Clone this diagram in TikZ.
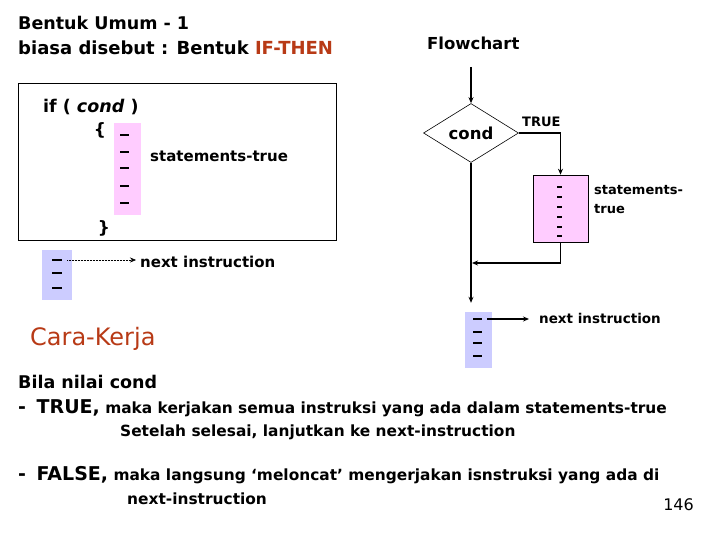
\documentclass[tikz,border=0pt]{standalone}
\usepackage{fontspec}
\setmainfont{DejaVu Sans}
\usepackage{xcolor}
\usetikzlibrary{arrows.meta,shapes.geometric,calc}
\definecolor{judulmerah}{RGB}{184,58,22}
\definecolor{isipink}{RGB}{255,204,255}
\definecolor{isibiru}{RGB}{204,204,255}

\begin{document}
\begin{tikzpicture}[x=1pt, y=-1pt, >={Stealth[length=6pt,width=5pt]},
    teks/.style={anchor=base west, inner sep=0pt, font=\bfseries\fontsize{15.4}{18}\selectfont},
    garis/.style={line width=1.5pt},
    strip/.style={line width=2pt},
    blok/.style={inner sep=0pt}]
    \useasboundingbox[fill=white] (0,0) rectangle (720,540);
    % judul
    \node[teks, font=\bfseries\fontsize{17.5}{20}\selectfont] (judulA) at (18,30) {Bentuk Umum - 1};
    \node[teks, font=\bfseries\fontsize{18}{20}\selectfont] (judulB) at (18,55) {biasa disebut : Bentuk \textcolor{judulmerah}{IF-THEN}};
    \node[teks, font=\bfseries\fontsize{16.5}{20}\selectfont] (judulFC) at (427,50) {Flowchart};
    % kode if
    \draw[line width=1pt] (18,84) rectangle (336,240);
    \node[teks, font=\bfseries\fontsize{17.5}{20}\selectfont] (kodeIf) at (43,113) {if ( \textit{cond} )};
    \node[font=\bfseries\fontsize{17}{20}\selectfont] (kurungBuka) at (100,130) {\{};
    \node[font=\bfseries\fontsize{17}{20}\selectfont] (kurungTutup) at (104,228) {\}};
    \node[blok, fill=isipink, minimum width=27pt, minimum height=92pt] (blokPink) at (127.5,169) {};
    \foreach \y in {135,152,168,186,203} \draw[strip] (120,\y) -- (129,\y);
    \node[teks, font=\bfseries\fontsize{15}{17}\selectfont] (stmtKiri) at (150,162) {statements-true};
    % next instruction kiri
    \node[blok, fill=isibiru, minimum width=30pt, minimum height=50pt] (blokBiru) at (57,275) {};
    \foreach \y in {260,273,288} \draw[strip] (52,\y) -- (62,\y);
    \coordinate (ujungKiri) at (67,260);
    \node[teks, font=\bfseries\fontsize{15}{18}\selectfont] (nextKiri) at (140,267) {next instruction};
    \draw[->, line width=0.5pt, densely dotted, shorten >=4pt] (ujungKiri) -- (nextKiri.west |- ujungKiri);
    % flowchart
    \coordinate (mulai) at (471,67);
    \node[draw, diamond, line width=0.6pt, minimum width=95pt, minimum height=59pt, inner sep=0pt,
          font=\bfseries\fontsize{16.5}{18}\selectfont] (cond) at (471,133) {cond};
    \node[blok, draw, fill=isipink, line width=0.6pt, minimum width=55pt, minimum height=67pt] (blokBenar) at (560.5,208.5) {};
    \foreach \y in {187,197,207,217,227,236} \draw[strip] (557,\y) -- (562,\y);
    \node[teks, font=\bfseries\fontsize{13}{16}\selectfont] (labelTrue) at (522,127) {TRUE};
    \node[teks, anchor=north west, align=left, font=\bfseries\fontsize{13}{19}\selectfont] (stmtKanan) at (594,185) {statements-\\true};
    \node[blok, fill=isibiru, minimum width=27pt, minimum height=56pt] (blokNext) at (478.5,340) {};
    \foreach \y in {319,332,343,356} \draw[strip] (473,\y) -- (482,\y);
    \coordinate (ujungKanan) at (487,319);
    \node[teks, font=\bfseries\fontsize{13.5}{16}\selectfont] (nextKanan) at (539,323) {next instruction};
    \draw[->, garis, shorten >=10pt] (ujungKanan) -- (nextKanan.west |- ujungKanan);
    % alur
    \coordinate (gabung) at (472,263);
    \draw[->, garis] (mulai) -- (cond.north);
    \draw[->, garis] (cond.east) -| (blokBenar.north);
    \draw[->, garis] (blokBenar.south) |- (gabung);
    \draw[->, garis, shorten >=9pt] (cond.south) -- (cond.south |- blokNext.north);
    % cara kerja
    \node[teks, font=\fontsize{24}{26}\selectfont, text=judulmerah] (caraKerja) at (30,345) {Cara-Kerja};
    \node[teks, font=\bfseries\fontsize{17.5}{20}\selectfont] (bila) at (18,388) {Bila nilai cond};
    \node[teks] (kasusTrue) at (18,413) {{\fontsize{19}{20}\selectfont -\hspace{4pt} TRUE,} maka kerjakan semua instruksi yang ada dalam statements-true};
    \node[teks] (setelah) at (120,436) {Setelah selesai, lanjutkan ke next-instruction};
    \node[teks] (kasusFalse) at (18,480) {{\fontsize{19}{20}\selectfont -\hspace{4pt} FALSE,} maka langsung ‘meloncat’ mengerjakan isnstruksi yang ada di};
    \node[teks] (nextBawah) at (127,504) {next-instruction};
    \node[anchor=base east, inner sep=0pt, font=\fontsize{16}{18}\selectfont] (halaman) at (694,510) {146};
\end{tikzpicture}
\end{document}
